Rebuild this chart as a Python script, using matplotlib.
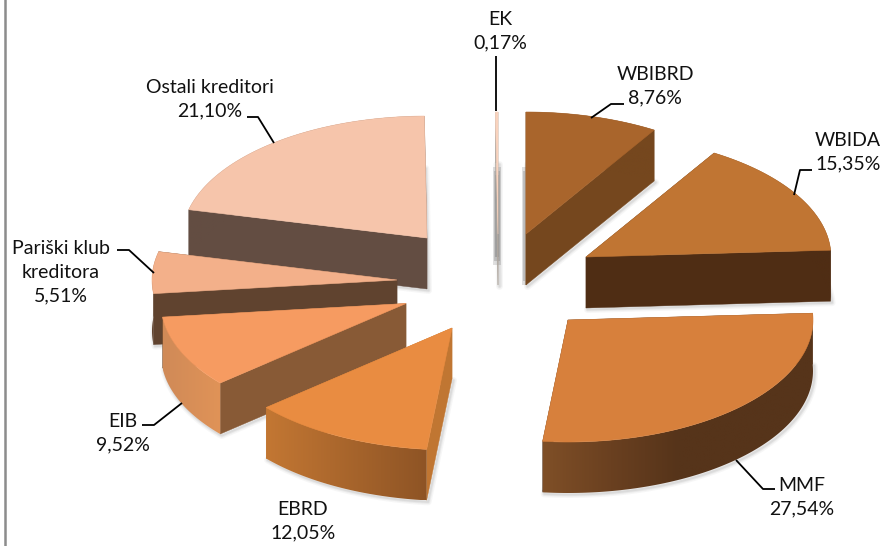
import numpy as np
import matplotlib
matplotlib.use("Agg")
import matplotlib.pyplot as plt
from matplotlib.colors import LinearSegmentedColormap
from matplotlib.patches import Polygon

# data
categories = ["WBIBRD", "WBIDA", "MMF", "EBRD", "EIB", "Pariški klub\nkreditora", "Ostali kreditori", "EK"]
shares = [8.76, 15.35, 27.54, 12.05, 9.52, 5.51, 21.10, 0.17]

# layout (pixels)
apex_x = [526, 586, 568, 452, 406, 397, 427, 498]
apex_y = [234, 257, 320, 328, 303.5, 280, 238, 234]
label_x = [655, 848, 802, 303, 123, 61, 210, 500]
label_y = [86, 152, 497, 521, 433, 272, 99, 31]
leader_x = [[624, 611, 591], [812, 800, 794], [775, 763, 736], [None], [142, 154, 182],
            [117, 129, 154], [247, 258, 274], [496, 496]]
leader_y = [[104, 104, 118], [170, 170, 195], [489, 489, 460], [None], [425, 425, 403],
            [250, 250, 273], [117, 117, 143], [56, 111]]
rx, ry, depth = 245, 122, 51

# style
top_colors = ["#A9652C", "#C07533", "#D7803C", "#E98C41", "#F69B61", "#F3B08A", "#F6C5AB", "#F9D3BE"]
wall_colors = ["#75471E", "#4F2D14", "#56341A", "#C07632", "#885A36", "#60432F", "#634D42", "#B0A8A0"]
arc_stops = [["#75471E", "#75471E"], ["#4F2D14", "#4F2D14"],
             ["#7F4F27", "#6A4020", "#56341A", "#56341A", "#56341A"],
             ["#C37733", "#8E5425"], ["#D08A58", "#E09357"],
             ["#60432F", "#60432F"], ["#634D42", "#634D42"], ["#B0A8A0", "#B0A8A0"]]
draw_order = [6, 7, 5, 4, 3, 0, 1, 2]

plt.rcParams["font.family"] = ["Lato", "DejaVu Sans"]
fig = plt.figure(figsize=(8.85, 5.46), dpi=100)
ax = fig.add_axes([0, 0, 1, 1])


def wedge_arc(cx, cy, t0, t1):
    th = np.radians(np.linspace(t0, t1, 120))
    return np.column_stack([cx + rx * np.sin(th), cy - ry * np.cos(th)])


edges = np.concatenate([[0], np.cumsum(shares)]) / sum(shares) * 360
shift = np.array([0, depth])

# soft shadows by the thin wedge and the WBIBRD back edge
for x0, x1, y0, y1 in [(493, 501, 167, 265), (522, 526, 167, 285)]:
    for k, a in enumerate([0.22, 0.28, 0.34]):
        ax.fill_between([x0 + k, x1 - k], y0 + k * 4, y1 - k * 4, color="#707070", alpha=a, lw=0, zorder=1)

for rank, i in enumerate(draw_order):
    z = 10 + rank * 10
    c = np.array([apex_x[i], apex_y[i]], float)
    arc = wedge_arc(c[0], c[1], edges[i], edges[i + 1])
    top = np.vstack([c, arc])
    for lw, a in [(5, 0.05), (3, 0.08), (1.5, 0.10)]:
        pts = np.vstack([arc + shift, [c + shift]]) + [1.5, 1.5]
        ax.add_patch(Polygon(pts, closed=True, fc="none", ec="#606060", lw=lw, alpha=a, zorder=z, joinstyle="round"))
    # radial walls
    for p in (arc[0], arc[-1]):
        ax.add_patch(Polygon([c, p, p + shift, c + shift], closed=True, fc=wall_colors[i],
                             ec=wall_colors[i], lw=0.3, zorder=z + 1))
    # outer wall with horizontal gradient
    wall = Polygon(np.vstack([arc, (arc + shift)[::-1]]), closed=True, transform=ax.transData,
                   fc="none", ec="none")
    ax.add_patch(wall)
    cmap = LinearSegmentedColormap.from_list("w", arc_stops[i])
    x0, x1 = arc[:, 0].min(), arc[:, 0].max()
    y0, y1 = arc[:, 1].min(), arc[:, 1].max() + depth
    im = ax.imshow(np.linspace(0, 1, 256)[None, :], cmap=cmap, extent=[x0, max(x1, x0 + 1), y1, y0],
                   aspect="auto", zorder=z + 2, interpolation="bilinear")
    im.set_clip_path(wall)
    # top face
    ax.add_patch(Polygon(top, closed=True, fc=top_colors[i], ec=top_colors[i], lw=0.4, zorder=z + 3))

for i, name in enumerate(categories):
    pct = f"{shares[i]:.2f}".replace(".", ",") + "%"
    ax.text(label_x[i], label_y[i], f"{name}\n{pct}", ha="center", va="center", fontsize=14,
            color="#111111", linespacing=1.46, zorder=200)
    if leader_x[i][0] is not None:
        ax.plot(leader_x[i], leader_y[i], color="black", lw=1.3, zorder=190, solid_capstyle="butt")

# frame line on the left
ax.plot([4.5, 4.5], [0, 546], color="#8C8C8C", lw=1.8, zorder=5)

ax.set_xlim(0, 885)
ax.set_ylim(546, 0)
ax.axis("off")
fig.savefig("out.png", dpi=100)
